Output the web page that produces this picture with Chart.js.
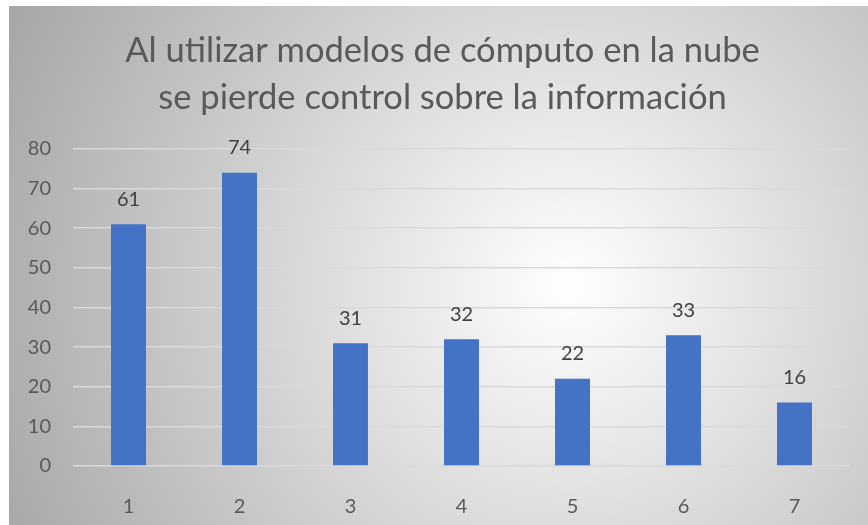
<!DOCTYPE html>
<html>
<head>
<meta charset="utf-8">
<script src="https://cdn.jsdelivr.net/npm/chart.js@4/dist/chart.umd.min.js"></script>
<style>
  html, body { margin: 0; padding: 0; background: #fff; }
  #wrap { position: absolute; left: 9px; top: 6px; width: 859px; height: 519px; }
</style>
</head>
<body>
<div id="wrap"><canvas id="chart" width="859" height="519"></canvas></div>
<script>
const categories = ['1', '2', '3', '4', '5', '6', '7']
const respuestas = [61, 74, 31, 32, 22, 33, 16]
const yTicks = [0, 10, 20, 30, 40, 50, 60, 70, 80]
const titleLines = ['Al utilizar modelos de cómputo en la nube', 'se pierde control sobre la información']

const FONT = 'Lato, "Open Sans", sans-serif'

// gray-to-white radial fill behind the whole chart
const radialBackground = {
  id: 'radialBackground',
  beforeDraw (chart) {
    const { ctx, width, height } = chart
    const g = ctx.createRadialGradient(560, 280, 0, 560, 280, 640)
    g.addColorStop(0, '#ffffff')
    g.addColorStop(1, '#a4a4a4')
    ctx.save()
    ctx.fillStyle = g
    ctx.fillRect(0, 0, width, height)
    ctx.restore()
  }
}

// value printed above each bar
const barValues = {
  id: 'barValues',
  afterDatasetsDraw (chart) {
    const { ctx } = chart
    const meta = chart.getDatasetMeta(0)
    ctx.save()
    ctx.fillStyle = '#404040'
    ctx.font = '20px ' + FONT
    ctx.textAlign = 'center'
    ctx.textBaseline = 'middle'
    meta.data.forEach((bar, i) => {
      ctx.fillText(String(respuestas[i]), bar.x, bar.y - 25)
    })
    ctx.restore()
  }
}

new Chart(document.getElementById('chart'), {
  type: 'bar',
  data: {
    labels: categories,
    datasets: [{
      data: respuestas,
      backgroundColor: '#4472c4',
      categoryPercentage: 1,
      barPercentage: 0.315
    }]
  },
  options: {
    responsive: false,
    animation: false,
    // title sits a little right of centre, so the right edge runs past the canvas
    // and an empty right axis takes the space back
    layout: { padding: { left: 0, right: -8, top: 0, bottom: 0 } },
    plugins: {
      legend: { display: false },
      tooltip: { enabled: false },
      title: {
        display: true,
        text: titleLines,
        color: '#595959',
        font: { family: FONT, size: 34.5, weight: 'normal', lineHeight: 1.362 },
        padding: { top: 21, bottom: 28 }
      }
    },
    scales: {
      x: {
        grid: { display: false },
        border: { display: false },
        ticks: { color: '#595959', font: { family: FONT, size: 20 }, padding: 21 },
        afterFit (scale) { scale.height = 59 }
      },
      y: {
        min: 0,
        max: 80,
        afterBuildTicks (scale) { scale.ticks = yTicks.map(v => ({ value: v })) },
        grid: { color: '#d9d9d9', lineWidth: 1.5, drawTicks: false },
        border: { display: false },
        ticks: { color: '#595959', font: { family: FONT, size: 20 }, padding: 22 },
        afterFit (scale) { scale.width = 64 }
      },
      spacer: {
        type: 'linear',
        position: 'right',
        grid: { display: false },
        border: { display: false },
        ticks: { display: false },
        afterFit (scale) { scale.width = 26 }
      }
    }
  },
  plugins: [radialBackground, barValues]
})
</script>
</body>
</html>
